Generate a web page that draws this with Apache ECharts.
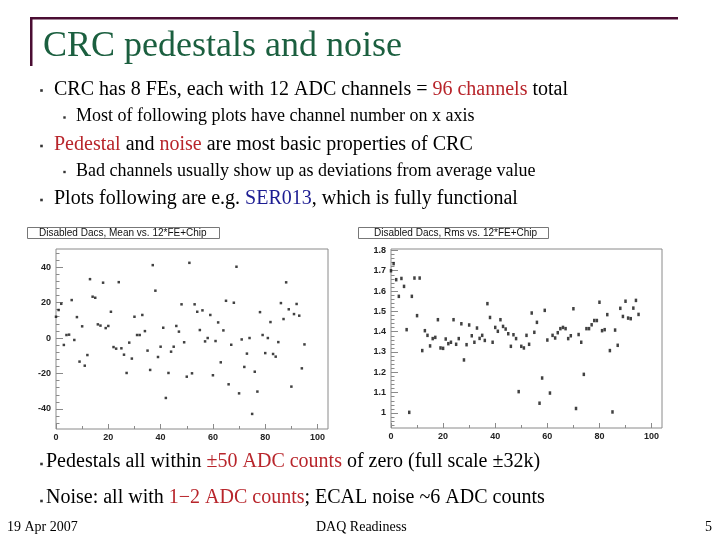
<!DOCTYPE html>
<html>
<head>
<meta charset="utf-8">
<script src="https://cdn.jsdelivr.net/npm/echarts@6/dist/echarts.min.js"></script>
<style>
html,body{margin:0;padding:0;background:#fff;}
#c{width:720px;height:540px;}
</style>
</head>
<body>
<div id="c"></div>
<script>
// ---- data ----
const channels = [0,1,2,3,4,5,6,7,8,9,10,11,12,13,14,15,16,17,18,19,20,21,22,23,24,25,26,27,28,29,30,31,32,33,34,35,36,37,38,39,40,41,42,43,44,45,46,47,48,49,50,51,52,53,54,55,56,57,58,59,60,61,62,63,64,65,66,67,68,69,70,71,72,73,74,75,76,77,78,79,80,81,82,83,84,85,86,87,88,89,90,91,92,93,94,95];
const pedestalMean = [12.0,15.8,19.3,-3.9,1.7,1.9,21.4,-1.1,11.8,-13.3,6.6,-15.6,-9.6,33.2,23.3,22.7,7.7,7.0,31.2,5.6,6.8,14.8,-5.1,-6.0,31.5,-5.8,-9.4,-19.7,-2.6,-11.6,12.0,1.7,1.7,13.0,3.9,-7.1,-18.0,41.1,26.7,-10.7,-4.9,5.8,-33.8,-19.7,-7.7,-4.9,6.8,3.6,19.0,-2.4,-21.8,42.4,-19.9,19.0,14.8,4.5,15.6,-1.9,0.0,13.0,-21.0,-1.7,8.8,-13.7,4.3,21.0,-26.1,-3.8,19.9,40.2,-31.2,-0.8,-16.3,-8.8,0.0,-42.8,-19.0,-30.2,14.6,1.7,-8.5,0.0,9.0,-9.0,-10.5,-2.3,19.7,10.7,31.4,16.2,-27.4,13.5,19.2,12.6,-17.1,-3.6];
const noiseRms = [1.700,1.735,1.656,1.574,1.662,1.623,1.410,1.003,1.574,1.664,1.479,1.664,1.307,1.405,1.382,1.330,1.366,1.372,1.459,1.320,1.318,1.364,1.341,1.348,1.459,1.338,1.366,1.439,1.261,1.336,1.433,1.380,1.348,1.418,1.367,1.382,1.357,1.538,1.470,1.348,1.421,1.402,1.459,1.426,1.413,1.390,1.328,1.385,1.366,1.105,1.328,1.320,1.382,1.338,1.492,1.397,1.446,1.048,1.172,1.505,1.359,1.098,1.382,1.369,1.395,1.415,1.421,1.415,1.366,1.380,1.513,1.022,1.386,1.348,1.190,1.415,1.415,1.434,1.455,1.455,1.545,1.405,1.410,1.484,1.307,1.005,1.408,1.333,1.515,1.475,1.550,1.467,1.464,1.516,1.554,1.485];
const xTickLabels = [0,20,40,60,80,100];
const xMinorTicks = [10,30,50,70,90];
const meanTickLabels = [-40,-20,0,20,40];
const meanMinorTicks = [-48,-44,-36,-32,-28,-24,-16,-12,-8,-4,4,8,12,16,24,28,32,36,44,48];
const rmsTickLabels = [1,1.1,1.2,1.3,1.4,1.5,1.6,1.7,1.8];
const rmsMinorTicks = [0.94,0.96,0.98,1.02,1.04,1.06,1.08,1.12,1.14,1.16,1.18,1.22,1.24,1.26,1.28,1.32,1.34,1.36,1.38,1.42,1.44,1.46,1.48,1.52,1.54,1.56,1.58,1.62,1.64,1.66,1.68,1.72,1.74,1.76,1.78];

// ---- styles ----
const SERIF = 'Liberation Serif';
const SANS = 'Liberation Sans';
const RED = '#b8252b';
const BLUE = '#1c1c92';
const GREEN = '#1b5f3f';
const MAROON = '#4a0d33';
const FRAME = '#8a8a8a';

const chart = echarts.init(document.getElementById('c'), null, {renderer:'canvas'});

function textLine(x, baseline, size, segs) {
  const rich = {};
  let str = '';
  segs.forEach((s, i) => {
    const k = 's' + i;
    rich[k] = {fill: s[1] || '#000', fontSize: size, fontFamily: SERIF};
    str += '{' + k + '|' + s[0] + '}';
  });
  return {
    type: 'text', x: x, y: baseline - size * 0.32, silent: true,
    style: {text: str, rich: rich, font: size + 'px ' + SERIF, verticalAlign: 'middle', align: 'left'}
  };
}
function bullet(cx, cy, s) {
  return {type: 'rect', shape: {x: cx - s/2, y: cy - s/2, width: s, height: s}, style: {fill: '#333'}, silent: true};
}

const graphics = [
  // title frame
  {type: 'rect', shape: {x: 30, y: 17, width: 648, height: 2.5}, style: {fill: MAROON}},
  {type: 'rect', shape: {x: 30, y: 17, width: 2.5, height: 49}, style: {fill: MAROON}},
  textLine(43, 58, 36, [['CRC pedestals and noise', GREEN]]),
  bullet(41.5, 90.5, 2.6),
  textLine(54, 96, 20, [['CRC has 8 FEs, each with 12 ADC channels = '], ['96 channels', RED], [' total']]),
  bullet(64.5, 117.5, 2.4),
  textLine(76, 122, 18, [['Most of following plots have channel number on x axis']]),
  bullet(41.5, 146, 2.6),
  textLine(54, 151, 20, [['Pedestal', RED], [' and '], ['noise', RED], [' are most basic properties of CRC']]),
  bullet(64.5, 172, 2.4),
  textLine(76, 177, 18, [['Bad channels usually show up as deviations from average value']]),
  bullet(41.5, 200, 2.6),
  textLine(54, 205, 20, [['Plots following are e.g. '], ['SER013', BLUE], [', which is fully functional']]),
  bullet(41.5, 464, 2.6),
  textLine(46, 468, 20, [['Pedestals all within '], ['\u00b150 ADC counts', RED], [' of zero (full scale \u00b132k)']]),
  bullet(41.5, 501, 2.6),
  textLine(46, 504, 20, [['Noise: all with '], ['1\u22122 ADC counts', RED], ['; ECAL noise ~6 ADC counts']]),
  textLine(7, 532, 14, [['19 Apr 2007']]),
  textLine(316, 532, 14, [['DAQ Readiness']]),
  textLine(705, 532, 14, [['5']]),
  // plot title boxes
  {type: 'rect', shape: {x: 27.5, y: 227.5, width: 192, height: 11}, style: {fill: '#fff', stroke: '#777', lineWidth: 1}},
  {type: 'text', x: 39, y: 233, style: {text: 'Disabled Dacs, Mean vs. 12*FE+Chip', font: '10px ' + SANS, fill: '#111', verticalAlign: 'middle'}},
  {type: 'rect', shape: {x: 358.5, y: 227.5, width: 190, height: 11}, style: {fill: '#fff', stroke: '#777', lineWidth: 1}},
  {type: 'text', x: 374, y: 233, style: {text: 'Disabled Dacs, Rms vs. 12*FE+Chip', font: '10px ' + SANS, fill: '#111', verticalAlign: 'middle'}}
];

function xAxes(gi) {
  return [
    {gridIndex: gi, type: 'value', min: 0, max: 104, position: 'bottom',
     axisLine: {show: false, onZero: false}, splitLine: {show: false},
     axisTick: {inside: true, length: 5, lineStyle: {color: FRAME}, customValues: xTickLabels},
     axisLabel: {customValues: xTickLabels, fontSize: 9, fontFamily: SANS, color: '#222', margin: 4, fontWeight: 'bold'}},
    {gridIndex: gi, type: 'value', min: 0, max: 104, position: 'bottom',
     axisLine: {show: false, onZero: false}, splitLine: {show: false},
     axisTick: {inside: true, length: 3, lineStyle: {color: FRAME}, customValues: xMinorTicks},
     axisLabel: {show: false}}
  ];
}
function yAxes(gi, mn, mx, major, minor) {
  return [
    {gridIndex: gi, type: 'value', min: mn, max: mx, position: 'left',
     axisLine: {show: false, onZero: false}, splitLine: {show: false},
     axisTick: {inside: true, length: 7, lineStyle: {color: FRAME}, customValues: major},
     axisLabel: {customValues: major, fontSize: 9, fontFamily: SANS, color: '#222', margin: 5, fontWeight: 'bold'}},
    {gridIndex: gi, type: 'value', min: mn, max: mx, position: 'left',
     axisLine: {show: false, onZero: false}, splitLine: {show: false},
     axisTick: {inside: true, length: 3.5, lineStyle: {color: FRAME}, customValues: minor},
     axisLabel: {show: false}}
  ];
}

const option = {
  backgroundColor: '#fff',
  animation: false,
  grid: [
    {left: 56, top: 249, width: 272, height: 180, show: true, borderColor: FRAME, borderWidth: 1, backgroundColor: '#fff'},
    {left: 391, top: 249, width: 271, height: 179, show: true, borderColor: FRAME, borderWidth: 1, backgroundColor: '#fff'}
  ],
  xAxis: xAxes(0).concat(xAxes(1)),
  yAxis: yAxes(0, -51.3, 50.2, meanTickLabels, meanMinorTicks).concat(yAxes(1, 0.926, 1.807, rmsTickLabels, rmsMinorTicks)),
  series: [
    {type: 'scatter', xAxisIndex: 0, yAxisIndex: 0, symbol: 'rect', symbolSize: 2.5,
     itemStyle: {color: '#111'}, data: channels.map((c, i) => [c, pedestalMean[i]])},
    {type: 'scatter', xAxisIndex: 2, yAxisIndex: 2, symbol: 'rect', symbolSize: [2.5, 3.5],
     itemStyle: {color: '#111'}, data: channels.map((c, i) => [c, noiseRms[i]])}
  ],
  graphic: graphics
};
chart.setOption(option);
</script>
</body>
</html>
